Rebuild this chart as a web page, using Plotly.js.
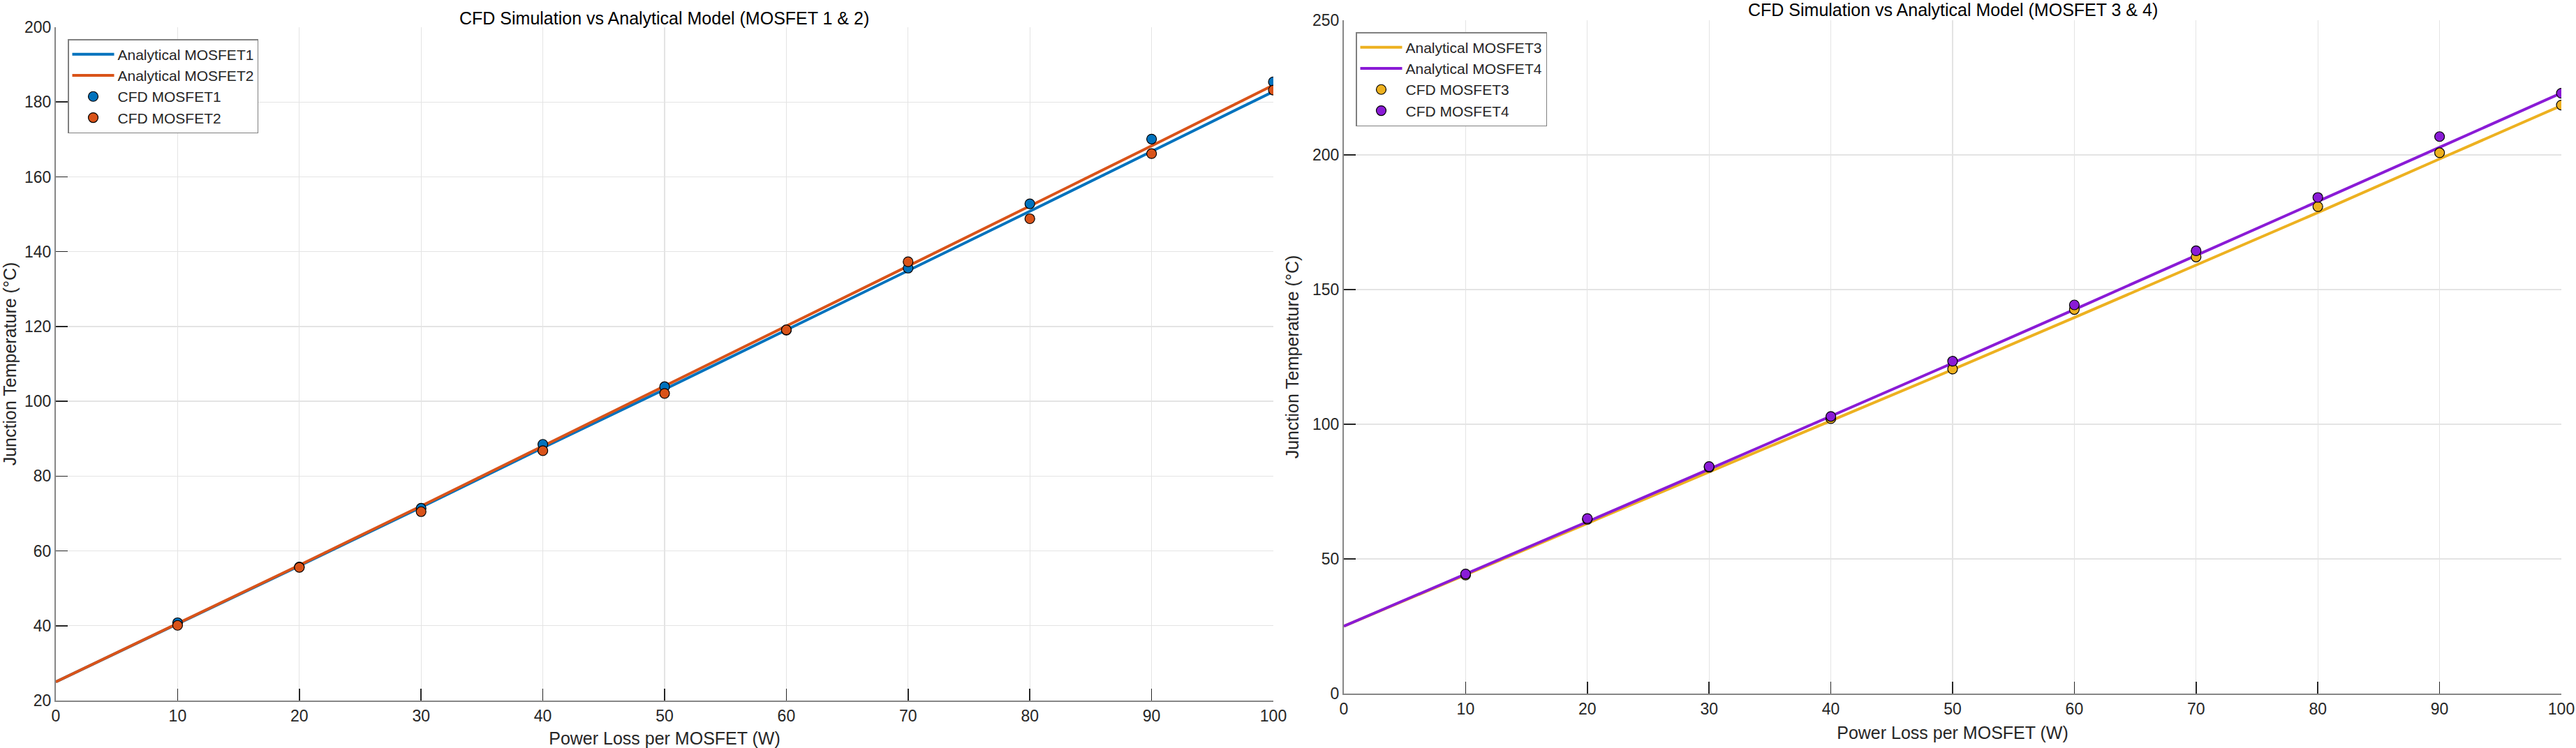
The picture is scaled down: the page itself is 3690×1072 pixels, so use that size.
<!DOCTYPE html>
<html>
<head>
<meta charset="utf-8">
<script src="https://cdn.plot.ly/plotly-3.0.1.min.js"></script>
<style>html,body{margin:0;padding:0;background:#fff;}#chart{width:3690px;height:1072px;}</style>
</head>
<body>
<div id="chart"></div>
<script>
// ---- data ----
const power = [0, 10, 20, 30, 40, 50, 60, 70, 80, 90, 100];
const cfdPower = [10, 20, 30, 40, 50, 60, 70, 80, 90, 100];
const analytical1 = [25, 40.4, 56.0, 71.7, 87.6, 103.2, 119.0, 135.0, 150.8, 166.8, 182.8];
const analytical2 = [25, 40.5, 56.2, 72.0, 88.0, 104.0, 120.0, 136.2, 152.2, 168.3, 184.5];
const cfd1 = [40.8, 55.7, 71.4, 88.5, 103.9, 119.0, 135.6, 152.8, 170.1, 185.4];
const cfd2 = [40.1, 55.6, 70.5, 86.8, 102.1, 119.1, 137.3, 148.8, 166.2, 183.2];
const analytical3 = [25, 44.0, 63.2, 82.3, 101.3, 120.3, 139.6, 159.0, 178.6, 198.5, 218.3];
const analytical4 = [25, 44.3, 63.8, 83.3, 102.9, 122.7, 142.6, 162.6, 182.6, 202.8, 223.0];
const cfd3 = [44.0, 64.7, 84.0, 102.1, 120.5, 142.6, 162.1, 180.8, 200.8, 218.5];
const cfd4 = [44.4, 65.0, 84.3, 102.9, 123.4, 144.3, 164.4, 184.2, 206.8, 222.9];
const names = ['MOSFET1', 'MOSFET2', 'MOSFET3', 'MOSFET4'];
const xTitle = 'Power Loss per MOSFET (W)';
const yTitle = 'Junction Temperature (°C)';
const title1 = 'CFD Simulation vs Analytical Model (MOSFET 1 & 2)';
const title2 = 'CFD Simulation vs Analytical Model (MOSFET 3 & 4)';

// ---- style ----
const colors = ['#0072BD', '#D95319', '#EDB120', '#8A1BD6'];
const FONT = 'Liberation Sans, Arial, Helvetica, sans-serif';
const W = 3690, H = 1072;

function lineTrace(x, y, i, xa, ya, lg) {
  return {x: x, y: y, type: 'scatter', mode: 'lines', name: 'Analytical ' + names[i],
    line: {color: colors[i], width: 4}, xaxis: xa, yaxis: ya, legend: lg};
}
function ptTrace(x, y, i, xa, ya, lg) {
  return {x: x, y: y, type: 'scatter', mode: 'markers', name: 'CFD ' + names[i],
    marker: {color: colors[i], size: 14, line: {color: '#000', width: 1.2}},
    xaxis: xa, yaxis: ya, legend: lg};
}

const traces = [
  lineTrace(power, analytical1, 0, 'x', 'y', 'legend'),
  lineTrace(power, analytical2, 1, 'x', 'y', 'legend'),
  ptTrace(cfdPower, cfd1, 0, 'x', 'y', 'legend'),
  ptTrace(cfdPower, cfd2, 1, 'x', 'y', 'legend'),
  lineTrace(power, analytical3, 2, 'x2', 'y2', 'legend2'),
  lineTrace(power, analytical4, 3, 'x2', 'y2', 'legend2'),
  ptTrace(cfdPower, cfd3, 2, 'x2', 'y2', 'legend2'),
  ptTrace(cfdPower, cfd4, 3, 'x2', 'y2', 'legend2')
];

const axBase = {
  showline: true, linecolor: '#868686', linewidth: 2, mirror: false,
  showgrid: true, gridcolor: '#e4e4e4', gridwidth: 1.3,
  zeroline: false, ticks: 'inside', ticklen: 17, tickwidth: 1.5, tickcolor: '#262626',
  tickfont: {family: FONT, size: 23, color: '#262626'}
};
function xa(domain, anchor) {
  return Object.assign({}, axBase, {domain: domain, anchor: anchor, range: [0, 100], dtick: 10, tick0: 0,
    title: {text: xTitle, font: {family: FONT, size: 25, color: '#262626'}, standoff: 14}});
}
function ya(domain, anchor, range, dtick) {
  return Object.assign({}, axBase, {domain: domain, anchor: anchor, range: range, dtick: dtick, tick0: 0,
    title: {text: yTitle, font: {family: FONT, size: 25, color: '#262626'}, standoff: 12}});
}

const legBase = {bgcolor: '#fff', bordercolor: '#808080', borderwidth: 1.5,
  font: {family: FONT, size: 21, color: '#262626'}, xanchor: 'left', yanchor: 'top',
  tracegroupgap: 0, itemwidth: 60};

const layout = {
  width: W, height: H,
  margin: {l: 0, r: 0, t: 0, b: 0},
  paper_bgcolor: '#fff', plot_bgcolor: '#fff',
  showlegend: true,
  xaxis: xa([80 / W, 1824 / W], 'y'),
  yaxis: ya([1 - 1004 / H, 1 - 39 / H], 'x', [20, 200], 20),
  xaxis2: xa([1925 / W, 3669 / W], 'y2'),
  yaxis2: ya([1 - 994 / H, 1 - 29 / H], 'x2', [0, 250], 50),
  legend: Object.assign({}, legBase, {x: 97 / W, y: 1 - 56 / H}),
  legend2: Object.assign({}, legBase, {x: 1942 / W, y: 1 - 46 / H}),
  annotations: [
    {text: title1, xref: 'paper', yref: 'paper', x: 952 / W, y: 1 - 26 / H, xanchor: 'center', yanchor: 'middle',
     showarrow: false, font: {family: FONT, size: 25, color: '#000'}},
    {text: title2, xref: 'paper', yref: 'paper', x: 2797 / W, y: 1 - 14 / H, xanchor: 'center', yanchor: 'middle',
     showarrow: false, font: {family: FONT, size: 25, color: '#000'}}
  ]
};

Plotly.newPlot('chart', traces, layout, {staticPlot: true, displayModeBar: false});
</script>
</body>
</html>
